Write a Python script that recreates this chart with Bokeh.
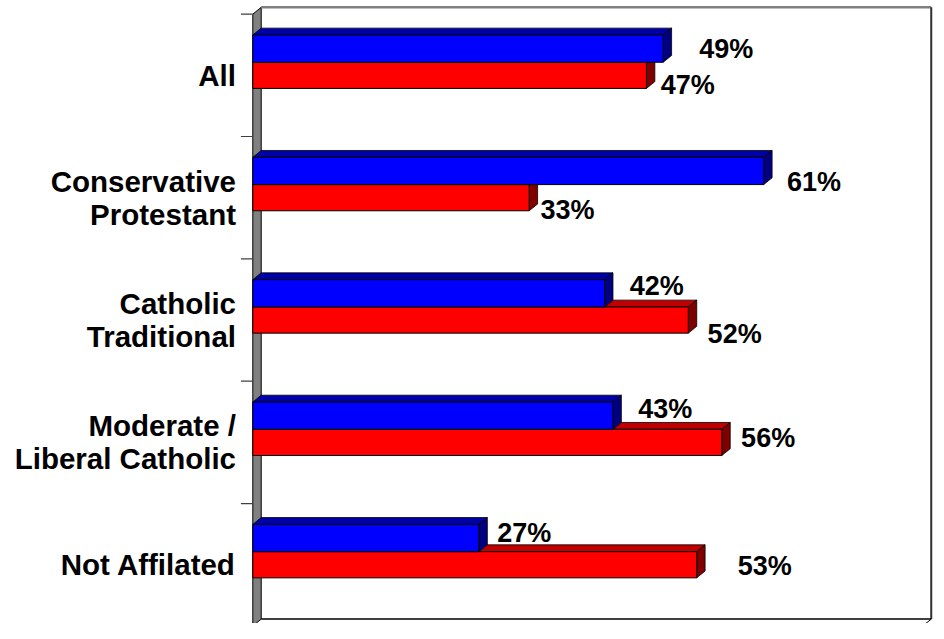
from bokeh.plotting import figure
from bokeh.models import Range1d, ColumnDataSource
from bokeh.core.properties import value
from bokeh.embed import file_html
from bokeh.resources import INLINE

# ---- data ----
categories = ["All", "Conservative\nProtestant", "Catholic\nTraditional",
              "Moderate /\nLiberal Catholic", "Not Affilated"]
blue_values = [49, 61, 42, 43, 27]
red_values = [47, 33, 52, 56, 53]
axis_max = 80

# ---- layout / style (not data) ----
PX_PCT = 8.465      # px per percent
PX_BAND = 125.5     # px per category band
W, H = 934, 623
DX = 8.5 / PX_PCT   # 3D depth, x
DY = -7.0 / PX_BAND  # 3D depth, y (upwards)
BLUE_TOP, MID, RED_BOT = 0.170, 0.393, 0.607
FONT = value("Liberation Sans")

# label nudges in px (dx from bar end + depth, dy from bar centre)
blue_nudge_dx = [28, 15, 17, 17, 10]
blue_nudge_dy = [0, 11, -8, -7, -5]
red_nudge_dx = [6, 3, 11, 11, 33]
red_nudge_dy = [10, 13, 14, -5, 1]

p = figure(width=W, height=H, output_backend="svg", toolbar_location=None,
           x_range=Range1d(-255 / PX_PCT, (944 - 255) / PX_PCT),
           y_range=Range1d(start=(639 - 14) / PX_BAND, end=(0 - 14) / PX_BAND),
           x_axis_type=None, y_axis_type=None, min_border=0)
p.outline_line_color = None
p.grid.visible = False
p.background_fill_color = "white"

n = len(categories)
# ---- walls ----
p.patch([0, DX, DX, 0], [0, DY, n + DY, n], fill_color="#808080",
        line_color="black", line_width=1)
p.line([DX, axis_max + DX], [DY, DY], line_color="#808080", line_width=2.5)
p.line([axis_max + DX, axis_max + DX], [DY, n + DY], line_color="#303030", line_width=2)
p.line([DX, axis_max + DX], [n + DY, n + DY], line_color="black", line_width=1.5)
p.line([axis_max + DX, axis_max], [n + DY, n], line_color="black", line_width=1)
# category ticks
p.segment(x0=[-12 / PX_PCT] * n, x1=[0] * n, y0=list(range(n)), y1=list(range(n)),
          line_color="#404040", line_width=1.2)


def bars(vals, top, bot, front, topc, side):
    tx, ty, sx, sy = [], [], [], []
    for i, v in enumerate(vals):
        t, b = i + top, i + bot
        tx.append([0, v, v + DX, DX]); ty.append([t, t, t + DY, t + DY])
        sx.append([v, v + DX, v + DX, v]); sy.append([t, t + DY, b + DY, b])
    p.patches(tx, ty, fill_color=topc, line_color="black", line_width=0.8)
    p.patches(sx, sy, fill_color=side, line_color="black", line_width=0.8)
    p.quad(left=[0] * len(vals), right=vals,
           top=[i + top for i in range(len(vals))],
           bottom=[i + bot for i in range(len(vals))],
           fill_color=front, line_color="black", line_width=1)


bars(red_values, MID, RED_BOT, "#FF0000", "#C00000", "#800000")
bars(blue_values, BLUE_TOP, MID, "#0000FF", "#0000A8", "#000080")

# ---- value labels ----
def labels(vals, top, bot, ndx, ndy):
    src = ColumnDataSource(dict(
        x=[v + DX + ndx[i] / PX_PCT for i, v in enumerate(vals)],
        y=[i + (top + bot) / 2 + ndy[i] / PX_BAND for i in range(len(vals))],
        t=[f"{v}%" for v in vals]))
    p.text(x="x", y="y", text="t", source=src, text_font=FONT,
           text_font_style="bold", text_font_size="27px", text_color="black",
           text_align="left", text_baseline="middle")


labels(blue_values, BLUE_TOP, MID, blue_nudge_dx, blue_nudge_dy)
labels(red_values, MID, RED_BOT, red_nudge_dx, red_nudge_dy)

# ---- category labels ----
cx, cy, ct = [], [], []
for i, c in enumerate(categories):
    lines = c.split("\n")
    for k, ln in enumerate(lines):
        cx.append(-17 / PX_PCT)
        cy.append(i + 0.5 + (k - (len(lines) - 1) / 2) * 34 / PX_BAND)
        ct.append(ln)
p.text(x=cx, y=cy, text=ct, text_font=FONT, text_font_style="bold",
       text_font_size="29.5px", text_color="black", text_align="right",
       text_baseline="middle")

open("out.html", "w").write(file_html(p, INLINE))
